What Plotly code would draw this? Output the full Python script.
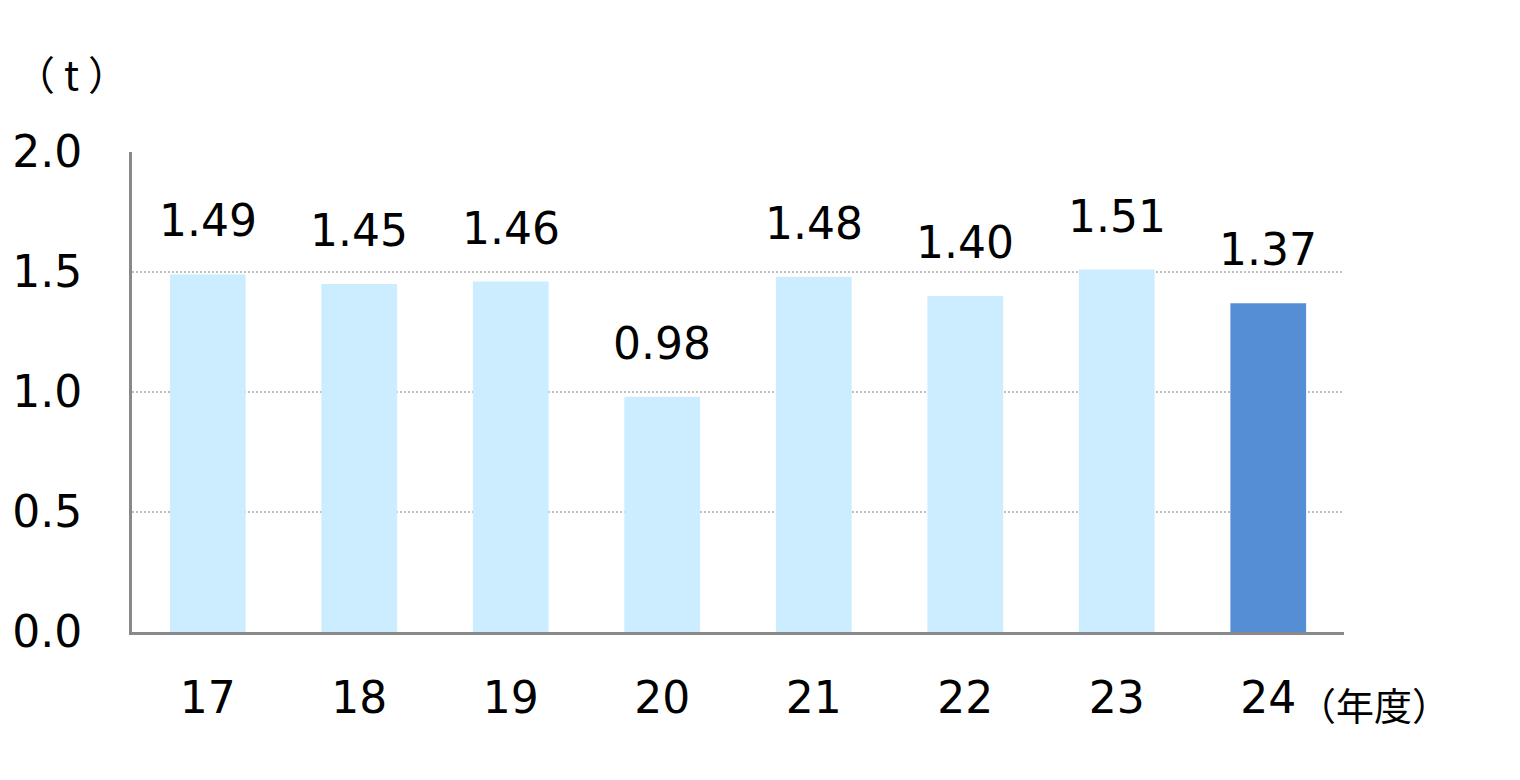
import plotly.graph_objects as go

years = ["17", "18", "19", "20", "21", "22", "23", "24"]
values = [1.49, 1.45, 1.46, 0.98, 1.48, 1.40, 1.51, 1.37]
labels = ["1.49", "1.45", "1.46", "0.98", "1.48", "1.40", "1.51", "1.37"]
y_ticks = [0.0, 0.5, 1.0, 1.5, 2.0]
y_tick_text = ["0.0", "0.5", "1.0", "1.5", "2.0"]

colors = ["#CCECFF"] * (len(years) - 1) + ["#558ED5"]

FONT = "DejaVu Sans, Verdana, sans-serif"
idx = list(range(len(years)))

fig = go.Figure()
fig.add_trace(go.Bar(
    x=idx, y=values, width=0.5,
    marker=dict(color=colors, line=dict(width=0)),
    hoverinfo="skip",
))

for i, v, t in zip(idx, values, labels):
    fig.add_annotation(x=i, y=v, text=t, showarrow=False, yanchor="bottom",
                       yshift=26, font=dict(size=44, color="#000000", family=FONT))

fig.add_annotation(xref="paper", yref="paper", x=-0.05, y=1.165, text="（ t ）",
                   showarrow=False, xanchor="center", yanchor="middle",
                   font=dict(size=40, color="#000000", family="Noto Sans CJK JP"))
fig.add_annotation(xref="paper", yref="paper", x=0.96, y=-0.148, text="（年度）",
                   showarrow=False, xanchor="left", yanchor="middle",
                   font=dict(size=38, color="#000000", family="Noto Sans CJK JP"))

fig.update_layout(
    width=1520, height=780,
    margin=dict(l=124, r=184, t=144, b=156, autoexpand=False),
    paper_bgcolor="white", plot_bgcolor="white",
    showlegend=False,
    font=dict(family=FONT, size=44, color="#000000"),
)
fig.update_xaxes(
    range=[-0.5, len(years) - 0.5], tickvals=idx, ticktext=years, automargin=False,
    showline=True, linecolor="#898989", linewidth=3,
    showgrid=False, ticks="", ticklabelstandoff=25,
    tickfont=dict(size=44, family=FONT, color="#000000"),
)
fig.update_yaxes(
    range=[0, 2.0], tickvals=y_ticks, ticktext=y_tick_text, automargin=False,
    showline=True, linecolor="#898989", linewidth=3,
    showgrid=True, gridcolor="#BFBFBF", gridwidth=2, griddash="2px,2px",
    zeroline=False, ticks="", ticklabelstandoff=38,
    tickfont=dict(size=44, family=FONT, color="#000000"),
)

fig.write_html("out.html")
